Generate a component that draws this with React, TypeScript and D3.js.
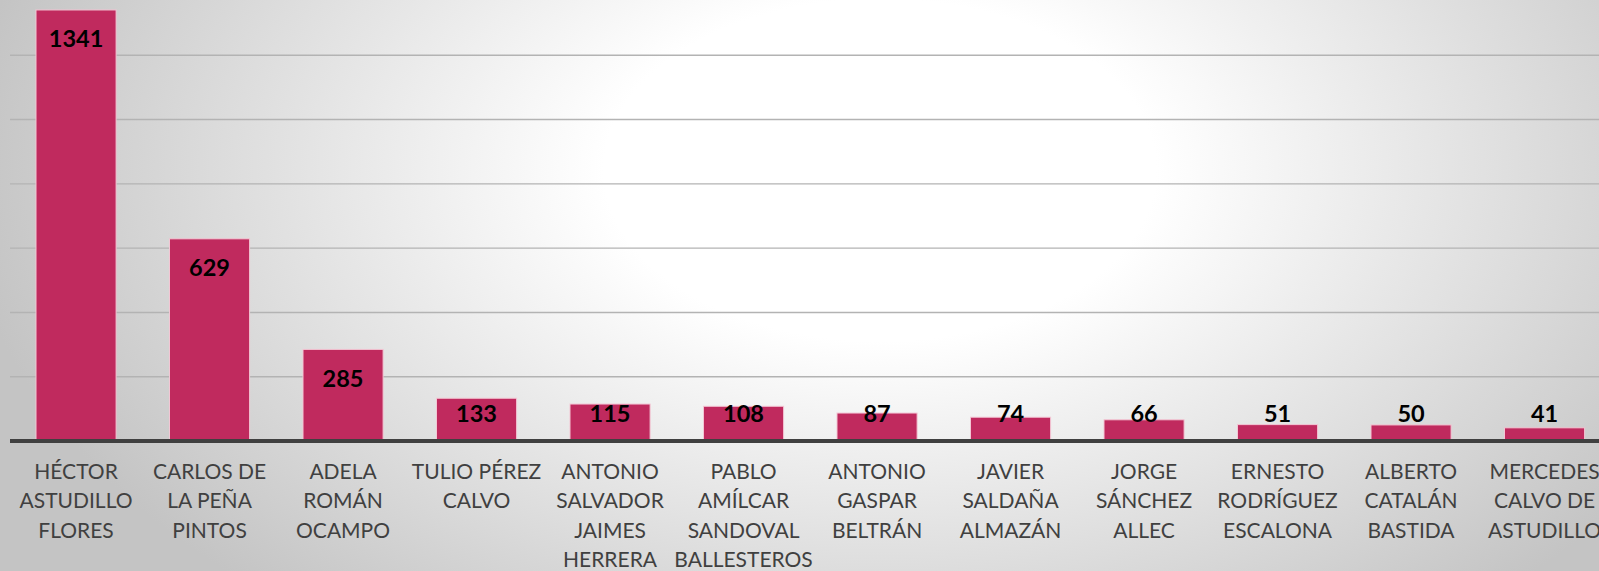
import React from 'react';
import * as d3 from 'd3';

const names = [
  ['HÉCTOR', 'ASTUDILLO', 'FLORES'],
  ['CARLOS DE', 'LA PEÑA', 'PINTOS'],
  ['ADELA', 'ROMÁN', 'OCAMPO'],
  ['TULIO PÉREZ', 'CALVO'],
  ['ANTONIO', 'SALVADOR', 'JAIMES', 'HERRERA'],
  ['PABLO', 'AMÍLCAR', 'SANDOVAL', 'BALLESTEROS'],
  ['ANTONIO', 'GASPAR', 'BELTRÁN'],
  ['JAVIER', 'SALDAÑA', 'ALMAZÁN'],
  ['JORGE', 'SÁNCHEZ', 'ALLEC'],
  ['ERNESTO', 'RODRÍGUEZ', 'ESCALONA'],
  ['ALBERTO', 'CATALÁN', 'BASTIDA'],
  ['MERCEDES', 'CALVO DE', 'ASTUDILLO'],
];
const values = [1341, 629, 285, 133, 115, 108, 87, 74, 66, 51, 50, 41];
const gridTicks = [200, 400, 600, 800, 1000, 1200];

const W = 1599;
const H = 571;

export default function App() {
  const x = d3.scaleBand<number>()
    .domain(values.map((_, i) => i))
    .range([9.3, 1611.3])
    .paddingInner(0.4)
    .paddingOuter(0.2);

  // y max sits just above the visible top
  const y = d3.scaleLinear().domain([0, 1400]).range([441, -9]);

  return (
    <div style={{ position: 'absolute', left: 0, top: 0 }}>
      <svg width={W} height={H} style={{ display: 'block' }}>
        <defs>
          <radialGradient id="bg" gradientUnits="userSpaceOnUse" cx={880} cy={170} r={920}
            gradientTransform="translate(880,170) scale(1,0.62) translate(-880,-170)">
            <stop offset="0" stopColor="#ffffff" />
            <stop offset="0.3" stopColor="#ffffff" />
            <stop offset="1" stopColor="#c4c4c4" />
          </radialGradient>
        </defs>
        <rect width={W} height={H} fill="url(#bg)" />

        {gridTicks.map(t => (
          <line key={t} x1={10} x2={W} y1={y(t)} y2={y(t)} stroke="#b3b3b3" strokeWidth={1.4} />
        ))}

        {values.map((v, i) => (
          <rect key={i}
            x={x(i)} y={y(v)} width={x.bandwidth()} height={y(0) - y(v)}
            fill="#c02a5e" stroke="#f3c6d4" strokeWidth={1} />
        ))}

        <line x1={10} x2={W} y1={y(0)} y2={y(0)} stroke="#404040" strokeWidth={4} />

        {values.map((v, i) => (
          <text key={i}
            x={(x(i) as number) + x.bandwidth() / 2}
            y={Math.min(y(v) + 37.5, 422)}
            textAnchor="middle" fontFamily="Lato" fontWeight="bold" fontSize={23.5} fill="#000">
            {v}
          </text>
        ))}

        {names.map((lines, i) => (
          <text key={i} textAnchor="middle" fontFamily="Lato" fontSize={21} fill="#404040">
            {lines.map((ln, j) => (
              <tspan key={j} x={(x(i) as number) + x.bandwidth() / 2} y={479 + j * 29.3}>{ln}</tspan>
            ))}
          </text>
        ))}
      </svg>
    </div>
  );
}
